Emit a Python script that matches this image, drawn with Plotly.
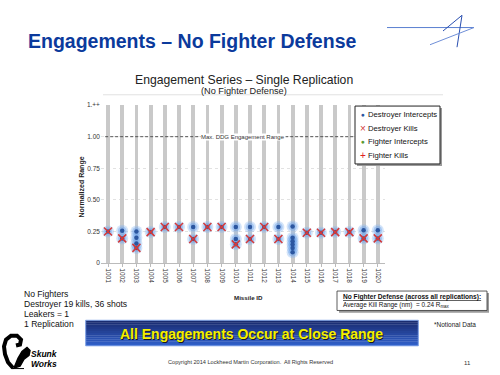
import plotly.graph_objects as go

# ---------------- data ----------------
missile_ids = [1001, 1002, 1003, 1004, 1005, 1006, 1007, 1008, 1009, 1010,
               1011, 1012, 1013, 1014, 1015, 1016, 1017, 1018, 1019, 1020]
x_tick_text = [str(m) for m in missile_ids]

intercept_missiles = [1001,
                      1002, 1002,
                      1003, 1003, 1003, 1003,
                      1004, 1005, 1006,
                      1007, 1007,
                      1008, 1009,
                      1010, 1010, 1010,
                      1011, 1011,
                      1012,
                      1013, 1013,
                      1014, 1014, 1014, 1014, 1014, 1014,
                      1015, 1016, 1017, 1018,
                      1019, 1019,
                      1020, 1020]
intercept_ranges = [0.25,
                    0.255, 0.195,
                    0.25, 0.20, 0.155, 0.12,
                    0.245, 0.285, 0.285,
                    0.285, 0.19,
                    0.285, 0.285,
                    0.285, 0.19, 0.148,
                    0.285, 0.19,
                    0.285,
                    0.285, 0.19,
                    0.29, 0.20, 0.172, 0.146, 0.12, 0.085,
                    0.24, 0.24, 0.245, 0.245,
                    0.26, 0.195,
                    0.26, 0.195]

kill_missiles = [1001, 1002, 1003, 1004, 1005, 1006, 1007, 1008, 1009, 1010,
                 1011, 1012, 1013, 1015, 1016, 1017, 1018, 1019, 1020]
kill_ranges = [0.25, 0.195, 0.12, 0.245, 0.285, 0.285, 0.19, 0.285, 0.285, 0.148,
               0.19, 0.285, 0.19, 0.24, 0.24, 0.245, 0.245, 0.195, 0.195]

fighter_intercept_missiles = []
fighter_intercept_ranges = []
fighter_kill_missiles = []
fighter_kill_ranges = []

y_axis_max = 1.25
y_tick_vals = [0, 0.25, 0.5, 0.75, 1.0, 1.25]
y_tick_text = ["0", "0.25", "0.50", "0.75", "1.00", "1.++"]
max_ddg_range = 1.0

FONT = "Liberation Sans, Arial, sans-serif"


def px(x):
    return x / 500.0


def py(y):
    return 1 - y / 375.0


fig = go.Figure()

# background range columns
fig.add_trace(go.Bar(x=missile_ids, y=[y_axis_max] * len(missile_ids), width=0.28,
                     marker=dict(color="#c9c9c9", line=dict(width=0)),
                     showlegend=False, hoverinfo="skip"))

# destroyer intercepts: glow + core
fig.add_trace(go.Scatter(x=intercept_missiles, y=intercept_ranges, mode="markers",
                         marker=dict(size=12, color="rgba(140,185,240,0.38)", line=dict(width=0)),
                         showlegend=False, hoverinfo="skip"))
fig.add_trace(go.Scatter(x=intercept_missiles, y=intercept_ranges, mode="markers",
                         marker=dict(size=8.5, color="rgba(110,165,235,0.45)", line=dict(width=0)),
                         showlegend=False, hoverinfo="skip"))
fig.add_trace(go.Scatter(x=intercept_missiles, y=intercept_ranges, mode="markers",
                         name="Destroyer Intercepts",
                         marker=dict(size=4.5, color="#2b56a0", line=dict(width=0)),
                         showlegend=False))
# destroyer kills
fig.add_trace(go.Scatter(x=kill_missiles, y=kill_ranges, mode="markers",
                         name="Destroyer Kills",
                         marker=dict(symbol="x-thin", size=8,
                                     line=dict(color="#d43a3a", width=1.6)),
                         showlegend=False))
# fighter traces (no data in this replication)
fig.add_trace(go.Scatter(x=fighter_intercept_missiles, y=fighter_intercept_ranges,
                         mode="markers", name="Fighter Intercepts",
                         marker=dict(size=5, color="#5a9a30"), showlegend=False))
fig.add_trace(go.Scatter(x=fighter_kill_missiles, y=fighter_kill_ranges,
                         mode="markers", name="Fighter Kills",
                         marker=dict(symbol="cross-thin", size=8,
                                     line=dict(color="#e02020", width=1.6)),
                         showlegend=False))

shapes = []
annotations = []

# max DDG engagement range line
shapes.append(dict(type="line", xref="x", yref="y", x0=1000.8, x1=1020.5,
                   y0=max_ddg_range, y1=max_ddg_range,
                   line=dict(color="#444444", width=0.9, dash="3px,2px"), layer="above"))
annotations.append(dict(xref="paper", yref="y", x=px(243), y=max_ddg_range,
                        text="Max. DDG Engagement Range", showarrow=False,
                        font=dict(family=FONT, size=6, color="#333333"),
                        bgcolor="white", borderpad=0))

# title separator line
shapes.append(dict(type="line", xref="paper", yref="paper", x0=px(103), x1=px(443),
                   y0=py(92.5), y1=py(92.5), line=dict(color="#e2e2e2", width=1)))

# manual legend
shapes.append(dict(type="rect", xref="paper", yref="paper", x0=px(357), x1=px(442),
                   y0=py(106), y1=py(165), fillcolor="#9a9a9a", line=dict(width=0),
                   layer="above"))
shapes.append(dict(type="rect", xref="paper", yref="paper", x0=px(355), x1=px(440),
                   y0=py(104), y1=py(163), fillcolor="white",
                   line=dict(color="#222222", width=1), layer="above"))
legend_items = [("●", "#2b56a0", 6.5, "Destroyer Intercepts", 112.3),
                ("×", "#d43a3a", 10, "Destroyer Kills", 126.5),
                ("●", "#5a9a30", 6.5, "Fighter Intercepts", 140.3),
                ("+", "#e02020", 10, "Fighter Kills", 154.3)]
for sym, col, sz, label, yy in legend_items:
    annotations.append(dict(xref="paper", yref="paper", x=px(362.5), y=py(yy),
                            text=sym, showarrow=False, xanchor="center", yanchor="middle",
                            font=dict(family=FONT, size=sz, color=col)))
    annotations.append(dict(xref="paper", yref="paper", x=px(366), y=py(yy),
                            text=label, showarrow=False, xanchor="left", yanchor="middle",
                            font=dict(family=FONT, size=7.7, color="#111111")))

# slide title
annotations.append(dict(xref="paper", yref="paper", x=px(26), y=py(37.5),
                        text="<b>Engagements – No Fighter Defense</b>", showarrow=False,
                        xanchor="left", yanchor="middle",
                        font=dict(family=FONT, size=19.5, color="#0b3a9c")))
# chart titles
annotations.append(dict(xref="paper", yref="paper", x=px(244), y=py(77),
                        text="Engagement Series – Single Replication", showarrow=False,
                        xanchor="center", yanchor="middle",
                        font=dict(family=FONT, size=12.2, color="#222222")))
annotations.append(dict(xref="paper", yref="paper", x=px(244), y=py(88.8),
                        text="(No Fighter Defense)", showarrow=False,
                        xanchor="center", yanchor="middle",
                        font=dict(family=FONT, size=9.2, color="#222222")))
# axis titles
annotations.append(dict(xref="paper", yref="paper", x=px(82), y=py(187),
                        text="<b>Normalized Range</b>", showarrow=False, textangle=-90,
                        xanchor="center", yanchor="middle",
                        font=dict(family=FONT, size=7, color="#222222")))
annotations.append(dict(xref="paper", yref="paper", x=px(248.5), y=py(299),
                        text="<b>Missile ID</b>", showarrow=False,
                        xanchor="center", yanchor="middle",
                        font=dict(family=FONT, size=6.2, color="#222222")))

# bottom-left notes
for txt, yy in [("No Fighters", 295.7), ("Destroyer 19 kills, 36 shots", 305.7),
                ("Leakers = 1", 315.8), ("1 Replication", 326)]:
    annotations.append(dict(xref="paper", yref="paper", x=px(21.5), y=py(yy),
                            text=txt, showarrow=False, xanchor="left", yanchor="middle",
                            font=dict(family=FONT, size=8.6, color="#111111")))

# right summary box
shapes.append(dict(type="rect", xref="paper", yref="paper", x0=px(339), x1=px(489),
                   y0=py(294.5), y1=py(314.5), fillcolor="#9a9a9a", line=dict(width=0)))
shapes.append(dict(type="rect", xref="paper", yref="paper", x0=px(337), x1=px(487),
                   y0=py(292.5), y1=py(312.3), fillcolor="white",
                   line=dict(color="#333333", width=0.8)))
annotations.append(dict(xref="paper", yref="paper", x=px(340.5), y=py(298.5),
                        text="<b><u>No Fighter Defense (across all replications):</u></b>",
                        showarrow=False, xanchor="left", yanchor="middle",
                        font=dict(family=FONT, size=6.6, color="#111111")))
annotations.append(dict(xref="paper", yref="paper", x=px(340.5), y=py(307),
                        text="Average Kill Range (nm)  = 0.24 R<sub>max</sub>",
                        showarrow=False, xanchor="left", yanchor="middle",
                        font=dict(family=FONT, size=6.4, color="#111111")))
annotations.append(dict(xref="paper", yref="paper", x=px(432), y=py(326.3),
                        text="*Notional Data", showarrow=False, xanchor="left",
                        yanchor="middle", font=dict(family=FONT, size=6.5, color="#222222")))

# banner with gradient
top_c = (26, 44, 112)
bot_c = (48, 95, 200)
n_strips = 12
y_top, y_bot = 322.3, 348.3
for i in range(n_strips):
    t = i / (n_strips - 1)
    c = tuple(int(top_c[k] + (bot_c[k] - top_c[k]) * t) for k in range(3))
    y0 = y_top + (y_bot - y_top) * i / n_strips
    y1 = y_top + (y_bot - y_top) * (i + 1) / n_strips
    shapes.append(dict(type="rect", xref="paper", yref="paper", x0=px(85.7), x1=px(418.3),
                       y0=py(y0), y1=py(y1 + 0.3), fillcolor="rgb(%d,%d,%d)" % c,
                       line=dict(width=0)))
shapes.append(dict(type="rect", xref="paper", yref="paper", x0=px(85.7), x1=px(418.3),
                   y0=py(y_top), y1=py(y_bot), fillcolor="rgba(0,0,0,0)",
                   line=dict(color="#7fa2e6", width=1)))
annotations.append(dict(xref="paper", yref="paper", x=px(252.7), y=py(337),
                        text="<b>All Engagements Occur at Close Range</b>", showarrow=False,
                        xanchor="center", yanchor="middle",
                        font=dict(family=FONT, size=14, color="#1a1a1a")))
annotations.append(dict(xref="paper", yref="paper", x=px(251.7), y=py(336),
                        text="<b>All Engagements Occur at Close Range</b>", showarrow=False,
                        xanchor="center", yanchor="middle",
                        font=dict(family=FONT, size=14, color="#f4f000")))

# footer
annotations.append(dict(xref="paper", yref="paper", x=px(250), y=py(364.5),
                        text="Copyright 2014 Lockheed Martin Corporation.  All Rights Reserved",
                        showarrow=False, xanchor="center", yanchor="middle",
                        font=dict(family=FONT, size=5.6, color="#333333")))
annotations.append(dict(xref="paper", yref="paper", x=px(467), y=py(366),
                        text="11", showarrow=False, xanchor="center", yanchor="middle",
                        font=dict(family=FONT, size=6, color="#333333")))

# Skunk Works logo (approximate)
def path_from(points):
    s = "M %f,%f" % (px(points[0][0]), py(points[0][1]))
    for x, y in points[1:]:
        s += " L %f,%f" % (px(x), py(y))
    return s

tail = [(13, 371), (8, 365), (5, 357), (4, 349), (6, 342), (11, 338), (17, 338),
        (21, 342), (20, 347), (16, 348)]
shapes.append(dict(type="path", xref="paper", yref="paper", path=path_from(tail),
                   line=dict(color="black", width=4)))
body = [(14, 371), (18, 361), (22, 354), (27, 350), (30, 353), (29, 358), (24, 362),
        (20, 369)]
shapes.append(dict(type="path", xref="paper", yref="paper", path=path_from(body) + " Z",
                   fillcolor="black", line=dict(color="black", width=1.5)))
shapes.append(dict(type="path", xref="paper", yref="paper",
                   path=path_from([(12, 371.5), (24, 371.5)]),
                   line=dict(color="black", width=1)))
annotations.append(dict(xref="paper", yref="paper", x=px(29), y=py(356.5),
                        text="<b><i>Skunk</i></b>", showarrow=False, xanchor="left",
                        yanchor="middle", font=dict(family=FONT, size=8.5, color="black")))
annotations.append(dict(xref="paper", yref="paper", x=px(29), y=py(366.5),
                        text="<b><i>Works</i></b>", showarrow=False, xanchor="left",
                        yanchor="middle", font=dict(family=FONT, size=8.5, color="black")))

# Lockheed Martin star logo (approximate)
for (x0, y0, x1, y1, col, w) in [(387, 24, 474, 24, "#5a7fd0", 1.0),
                                 (462, 11.5, 443, 27.5, "#2a4fb0", 1.0),
                                 (462, 11.5, 457, 44, "#2a4fb0", 1.0),
                                 (474, 24, 430, 41.5, "#6f8fd8", 1.0)]:
    shapes.append(dict(type="line", xref="paper", yref="paper", x0=px(x0), y0=py(y0),
                       x1=px(x1), y1=py(y1), line=dict(color=col, width=w)))

fig.update_layout(
    width=500, height=375,
    margin=dict(l=0, r=0, t=0, b=0),
    paper_bgcolor="white", plot_bgcolor="white",
    font=dict(family=FONT, color="#333333"),
    showlegend=False,
    xaxis=dict(domain=[px(100.9), px(384.9)], range=[1000.5, 1020.5],
               tickmode="array", tickvals=missile_ids, ticktext=x_tick_text,
               tickangle=90, tickfont=dict(family=FONT, size=6.5, color="#333333"),
               ticks="outside", ticklen=3, tickcolor="#bbbbbb",
               showline=True, linecolor="#bbbbbb", linewidth=1,
               showgrid=False, zeroline=False, fixedrange=True),
    yaxis=dict(domain=[py(264), py(103)], range=[0, y_axis_max],
               tickmode="array", tickvals=y_tick_vals, ticktext=y_tick_text,
               tickfont=dict(family=FONT, size=6.5, color="#333333"),
               showgrid=True, gridcolor="#e2e2e2", griddash="dot", gridwidth=1,
               zeroline=False, showline=False, ticks="", fixedrange=True),
    shapes=shapes,
    annotations=annotations,
    bargap=0,
)

fig.write_html("out.html", config={"displayModeBar": False},
               post_script="document.body.style.margin='0';document.body.style.overflow='hidden';")
